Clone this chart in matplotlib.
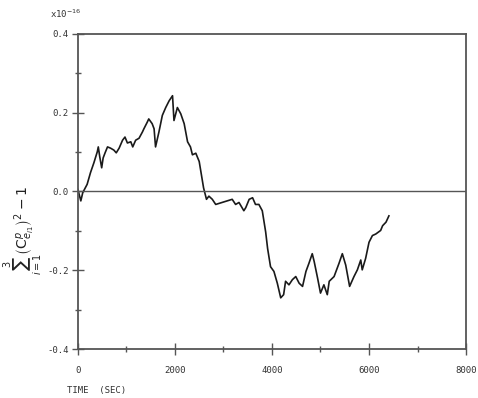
import numpy as np
import matplotlib
matplotlib.use("Agg")
import matplotlib.pyplot as plt
from matplotlib.ticker import MultipleLocator

# time (sec) and sum of squared direction cosines - 1 (units of 1e-16)
time_sec = [0, 60, 100, 190, 260, 330, 400, 420, 450, 490, 520, 560, 610, 670,
            740, 790, 850, 920, 970, 1020, 1090, 1130, 1190, 1260, 1330, 1360,
            1430, 1460, 1530, 1570, 1600, 1670, 1740, 1810, 1880, 1950, 1980,
            2050, 2120, 2190, 2260, 2320, 2360, 2430, 2500, 2590, 2650, 2700,
            2770, 2840, 3180, 3250, 3320, 3420, 3460, 3530, 3600, 3660, 3730,
            3800, 3870, 3910, 3970, 4040, 4110, 4180, 4240, 4280, 4350, 4420,
            4490, 4560, 4630, 4700, 4760, 4830, 4870, 4940, 5000, 5070, 5140,
            5180, 5280, 5380, 5450, 5520, 5600, 5690, 5760, 5830, 5860, 5930,
            6000, 6070, 6140, 6240, 6280, 6350, 6410]
deviation = [0.005, -0.024, -0.003, 0.018, 0.048, 0.073, 0.101, 0.113, 0.088,
             0.060, 0.085, 0.098, 0.113, 0.110, 0.105, 0.098, 0.110, 0.130,
             0.138, 0.123, 0.126, 0.113, 0.130, 0.135, 0.151, 0.159, 0.176,
             0.184, 0.172, 0.159, 0.113, 0.151, 0.193, 0.213, 0.230, 0.243,
             0.180, 0.213, 0.197, 0.172, 0.126, 0.113, 0.093, 0.097, 0.076,
             0.009, -0.020, -0.012, -0.020, -0.033, -0.020, -0.033, -0.028,
             -0.049, -0.041, -0.020, -0.016, -0.033, -0.033, -0.049, -0.103,
             -0.145, -0.191, -0.203, -0.233, -0.270, -0.262, -0.228, -0.237,
             -0.224, -0.216, -0.233, -0.241, -0.203, -0.183, -0.158, -0.178,
             -0.220, -0.258, -0.237, -0.262, -0.228, -0.216, -0.183, -0.158,
             -0.187, -0.241, -0.216, -0.199, -0.174, -0.199, -0.170, -0.129,
             -0.112, -0.108, -0.099, -0.087, -0.078, -0.062]

x_ticks = [0, 2000, 4000, 6000, 8000]
y_ticks = [-0.4, -0.2, 0.0, 0.2, 0.4]

fig = plt.figure(figsize=(4.78, 3.98), dpi=100)
ax = fig.add_axes([0.163, 0.123, 0.812, 0.792])

ax.plot(time_sec, deviation, color="#1a1a1a", lw=1.2)
ax.axhline(0.0, color="#555555", lw=1.0)

ax.set_xlim(0, 8000)
ax.set_ylim(-0.4, 0.4)
ax.set_xticks(x_ticks)
ax.set_yticks(y_ticks)
ax.set_xticklabels([str(v) for v in x_ticks])
ax.set_yticklabels(["%.1f" % v for v in y_ticks])
ax.xaxis.set_minor_locator(MultipleLocator(1000))
ax.yaxis.set_minor_locator(MultipleLocator(0.1))

for s in ax.spines.values():
    s.set_color("#555555")
    s.set_linewidth(1.3)

mono = "DejaVu Sans Mono"
ax.tick_params(which="major", direction="inout", length=9, width=1.0,
               color="#555555", labelsize=6.5, labelcolor="#333333", pad=2)
ax.tick_params(which="minor", direction="inout", length=5, width=1.0,
               color="#555555")
ax.tick_params(axis="x", which="major", pad=8)
for lab in ax.get_xticklabels() + ax.get_yticklabels():
    lab.set_family(mono)

fig.text(0.105, 0.965, r"x10$^{-16}$", fontsize=6.5, family=mono,
         color="#333333", ha="left", va="center")
fig.text(0.14, 0.008, "TIME  (SEC)", fontsize=6.5, family=mono,
         color="#333333", ha="left", va="bottom")
fig.text(0.048, 0.42,
         r"$\sum_{i=1}^{3}\left(\mathrm{C}_{e_{i1}}^{p}\right)^{2}-1$",
         fontsize=10, rotation=90, ha="center", va="center", color="#222222")

fig.savefig("out.png", dpi=100)
